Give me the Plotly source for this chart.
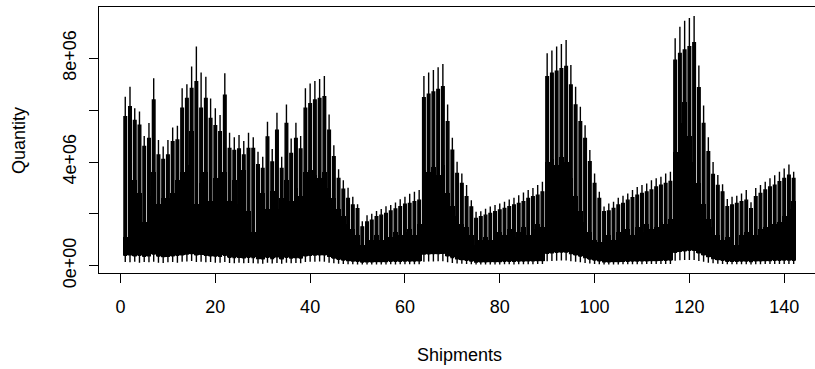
import numpy as np
import plotly.graph_objects as go

# Shipment index
shipments = list(range(1, 143))

# Upper whisker end (millions)
whisker_top = [
    6.52, 6.90, 6.07, 5.95, 5.00, 5.50, 7.23, 4.85, 4.60, 4.85,
    5.33, 5.40, 6.84, 7.00, 7.68, 8.45, 7.45, 7.29, 6.45, 6.07,
    5.81, 7.42, 5.13, 4.95, 5.04, 4.81, 5.13, 4.95, 4.40, 4.20,
    5.55, 4.50, 5.90, 4.20, 6.22, 4.91, 5.51, 5.00, 6.84, 7.03,
    7.12, 7.20, 7.32, 5.83, 4.65, 3.72, 3.30, 3.01, 2.66, 2.37,
    1.72, 1.95, 2.00, 2.11, 2.19, 2.29, 2.34, 2.44, 2.56, 2.66,
    2.78, 2.85, 2.92, 7.32, 7.45, 7.55, 7.65, 7.78, 6.22, 4.94,
    4.01, 3.56, 3.11, 2.53, 2.08, 2.10, 2.20, 2.28, 2.34, 2.40,
    2.47, 2.55, 2.62, 2.72, 2.82, 2.92, 3.00, 3.11, 3.24, 8.19,
    8.30, 8.45, 8.55, 8.70, 7.74, 6.90, 6.13, 5.42, 4.46, 3.56,
    2.85, 2.28, 2.40, 2.47, 2.62, 2.70, 2.79, 2.92, 3.04, 3.11,
    3.17, 3.30, 3.37, 3.43, 3.56, 3.62, 8.77, 9.22, 9.45, 9.55,
    9.63, 7.72, 6.18, 4.95, 4.00, 3.50, 3.14, 2.57, 2.66, 2.70,
    2.79, 2.92, 2.45, 3.00, 3.11, 3.24, 3.37, 3.49, 3.62, 3.75,
    3.90, 3.62,
]

# Upper edge of box (millions)
box_top = [
    5.75, 6.13, 5.60, 5.42, 4.60, 4.91, 6.39, 4.27, 4.10, 4.27,
    4.78, 4.85, 6.07, 6.45, 6.84, 7.10, 6.07, 6.45, 5.68, 5.40,
    5.17, 6.58, 4.52, 4.45, 4.50, 4.27, 4.52, 4.52, 3.90, 3.75,
    4.97, 4.00, 5.23, 3.75, 5.49, 4.33, 4.91, 4.50, 6.07, 6.25,
    6.39, 6.45, 6.52, 5.23, 4.20, 3.37, 2.95, 2.59, 2.34, 2.20,
    1.50, 1.69, 1.76, 1.89, 1.95, 2.02, 2.11, 2.19, 2.28, 2.37,
    2.40, 2.47, 2.53, 6.48, 6.61, 6.70, 6.80, 6.90, 5.55, 4.46,
    3.56, 3.17, 2.66, 2.27, 1.82, 1.89, 1.95, 2.02, 2.08, 2.15,
    2.21, 2.28, 2.34, 2.40, 2.47, 2.59, 2.66, 2.72, 2.85, 7.29,
    7.42, 7.50, 7.60, 7.68, 6.97, 6.20, 5.55, 4.91, 4.01, 3.17,
    2.59, 2.08, 2.11, 2.21, 2.34, 2.40, 2.53, 2.62, 2.72, 2.79,
    2.85, 2.92, 3.04, 3.11, 3.17, 3.25, 7.93, 8.19, 8.32, 8.45,
    8.60, 6.87, 5.49, 4.40, 3.52, 3.10, 2.85, 2.28, 2.34, 2.40,
    2.47, 2.53, 2.20, 2.66, 2.79, 2.92, 3.04, 3.11, 3.24, 3.37,
    3.49, 3.37,
]

# Middle level of the box (millions)
box_mid = [
    1.1, 4.0, 3.3, 2.8, 1.7, 2.7, 3.6, 2.4, 2.6, 2.6,
    2.8, 3.3, 3.6, 3.9, 5.2, 2.4, 3.2, 3.6, 2.5, 3.4,
    3.4, 3.6, 2.5, 3.3, 2.4, 3.7, 2.1, 1.3, 2.2, 2.8,
    2.2, 2.9, 2.2, 2.6, 3.3, 2.5, 3.0, 2.7, 3.6, 3.7,
    3.5, 3.4, 3.6, 3.0, 2.6, 2.2, 1.9, 1.6, 1.4, 1.2,
    0.8, 1.1, 1.0, 1.2, 1.0, 1.3, 1.1, 1.3, 1.2, 1.3,
    1.4, 1.2, 1.6, 3.7, 3.6, 3.8, 3.5, 3.9, 2.8, 2.3,
    1.9, 1.6, 1.5, 1.2, 0.8, 1.0, 1.1, 1.0, 1.2, 1.3,
    1.2, 1.4, 1.1, 1.3, 1.5, 1.2, 1.4, 1.6, 1.5, 4.0,
    4.1, 3.9, 4.2, 4.0, 3.4, 2.7, 2.1, 1.7, 1.3, 1.0,
    0.9, 0.9, 1.2, 1.0, 1.3, 1.1, 1.4, 1.2, 1.5, 1.3,
    1.6, 1.4, 1.5, 1.7, 1.6, 1.8, 4.4, 5.5, 6.3, 5.0,
    4.0, 3.2, 2.4, 1.8, 1.5, 1.2, 1.0, 1.1, 1.0, 0.8,
    1.2, 1.3, 0.9, 1.2, 1.4, 1.5, 1.6, 1.6, 1.7, 1.9,
    2.2, 2.5,
]

# Lower edge of box (millions)
box_bottom = [
    0.40, 0.42, 0.38, 0.40, 0.36, 0.38, 0.45, 0.37, 0.35, 0.36,
    0.38, 0.40, 0.42, 0.45, 0.47, 0.42, 0.44, 0.40, 0.38, 0.37,
    0.36, 0.40, 0.33, 0.32, 0.33, 0.31, 0.33, 0.32, 0.28, 0.27,
    0.33, 0.28, 0.34, 0.27, 0.33, 0.30, 0.32, 0.30, 0.38, 0.40,
    0.41, 0.42, 0.42, 0.36, 0.30, 0.25, 0.22, 0.20, 0.18, 0.17,
    0.14, 0.15, 0.15, 0.16, 0.16, 0.16, 0.17, 0.17, 0.17, 0.18,
    0.18, 0.18, 0.19, 0.45, 0.46, 0.47, 0.47, 0.48, 0.38, 0.32,
    0.27, 0.24, 0.21, 0.18, 0.14, 0.15, 0.15, 0.16, 0.16, 0.16,
    0.17, 0.17, 0.17, 0.18, 0.18, 0.19, 0.19, 0.20, 0.20, 0.48,
    0.50, 0.52, 0.53, 0.53, 0.47, 0.42, 0.37, 0.32, 0.26, 0.22,
    0.19, 0.15, 0.15, 0.16, 0.16, 0.17, 0.17, 0.18, 0.18, 0.19,
    0.19, 0.20, 0.20, 0.21, 0.21, 0.22, 0.52, 0.56, 0.58, 0.60,
    0.60, 0.50, 0.42, 0.35, 0.28, 0.24, 0.21, 0.17, 0.17, 0.17,
    0.18, 0.18, 0.16, 0.19, 0.19, 0.20, 0.20, 0.21, 0.21, 0.22,
    0.22, 0.21,
]

# Lower whisker end (millions)
whisker_bottom = [
    0.14, 0.13, 0.15, 0.12, 0.14, 0.13, 0.15, 0.12, 0.11, 0.13,
    0.14, 0.12, 0.15, 0.16, 0.18, 0.14, 0.15, 0.13, 0.14, 0.12,
    0.12, 0.14, 0.11, 0.10, 0.12, 0.10, 0.11, 0.10, 0.09, 0.08,
    0.12, 0.09, 0.11, 0.08, 0.12, 0.10, 0.11, 0.10, 0.14, 0.15,
    0.15, 0.16, 0.15, 0.12, 0.10, 0.08, 0.07, 0.06, 0.06, 0.05,
    0.05, 0.05, 0.05, 0.05, 0.05, 0.05, 0.06, 0.05, 0.06, 0.06,
    0.06, 0.06, 0.06, 0.15, 0.16, 0.16, 0.17, 0.17, 0.13, 0.11,
    0.09, 0.08, 0.07, 0.06, 0.05, 0.05, 0.05, 0.05, 0.05, 0.05,
    0.06, 0.06, 0.05, 0.06, 0.06, 0.06, 0.06, 0.07, 0.07, 0.17,
    0.18, 0.19, 0.20, 0.20, 0.17, 0.15, 0.13, 0.11, 0.09, 0.07,
    0.06, 0.05, 0.05, 0.05, 0.05, 0.06, 0.06, 0.06, 0.06, 0.06,
    0.07, 0.07, 0.07, 0.07, 0.07, 0.07, 0.19, 0.21, 0.22, 0.22,
    0.22, 0.18, 0.15, 0.12, 0.10, 0.08, 0.07, 0.06, 0.06, 0.06,
    0.06, 0.06, 0.05, 0.06, 0.06, 0.07, 0.07, 0.07, 0.07, 0.07,
    0.07, 0.07,
]

x_ticks = [0, 20, 40, 60, 80, 100, 120, 140]
y_ticks = [0, 2e6, 4e6, 6e6, 8e6]
y_tick_labels = ["0e+00", "", "4e+06", "", "8e+06"]

M = 1e6
wt = np.array(whisker_top) * M
bt = np.array(box_top) * M
bm = np.array(box_mid) * M
bb = np.array(box_bottom) * M
wb = np.array(whisker_bottom) * M

FONT = "Liberation Sans, Arial, sans-serif"

fig = go.Figure()

# solid lower part of each box (full slot width)
fig.add_trace(go.Bar(
    x=shipments, y=bm - bb, base=bb, width=1.0,
    marker=dict(color="black", line=dict(width=0)),
    hoverinfo="skip", showlegend=False,
))

# box plots from precomputed statistics
fig.add_trace(go.Box(
    x=shipments, q1=bb, median=bm, q3=bt,
    lowerfence=wb, upperfence=wt,
    width=0.55, whiskerwidth=0,
    fillcolor="black", line=dict(color="black", width=1.4),
    boxpoints=False, hoverinfo="skip", showlegend=False,
))

fig.update_layout(
    width=815, height=369,
    margin=dict(l=99, r=0, t=7, b=96),
    paper_bgcolor="white", plot_bgcolor="white",
    font=dict(family=FONT, size=18, color="black"),
    bargap=0,
    xaxis=dict(
        range=[-4.54, 146.5], tickmode="array", tickvals=x_ticks,
        ticks="outside", ticklen=9, tickwidth=1, tickcolor="black",
        showline=True, linecolor="black", linewidth=1, mirror=True,
        showgrid=False, zeroline=False,
        tickfont=dict(family=FONT, size=18, color="black"),
        ticklabelstandoff=8,
    ),
    yaxis=dict(
        range=[-0.28e6, 9.977e6], tickmode="array", tickvals=y_ticks,
        ticktext=y_tick_labels, tickangle=-90,
        ticks="outside", ticklen=9, tickwidth=1, tickcolor="black",
        showline=True, linecolor="black", linewidth=1, mirror=False,
        showgrid=False, zeroline=False,
        tickfont=dict(family=FONT, size=18, color="black"),
        ticklabelstandoff=6,
    ),
    annotations=[
        dict(text="Shipments", xref="paper", yref="paper",
             x=(459 - 99) / 716, y=(273 - 355) / 266,
             xanchor="center", yanchor="middle", showarrow=False,
             font=dict(family=FONT, size=18, color="black")),
        dict(text="Quantity", xref="paper", yref="paper",
             x=(19 - 99) / 716, y=(273 - 141) / 266, textangle=-90,
             xanchor="center", yanchor="middle", showarrow=False,
             font=dict(family=FONT, size=18, color="black")),
    ],
)

fig.write_html("out.html")
